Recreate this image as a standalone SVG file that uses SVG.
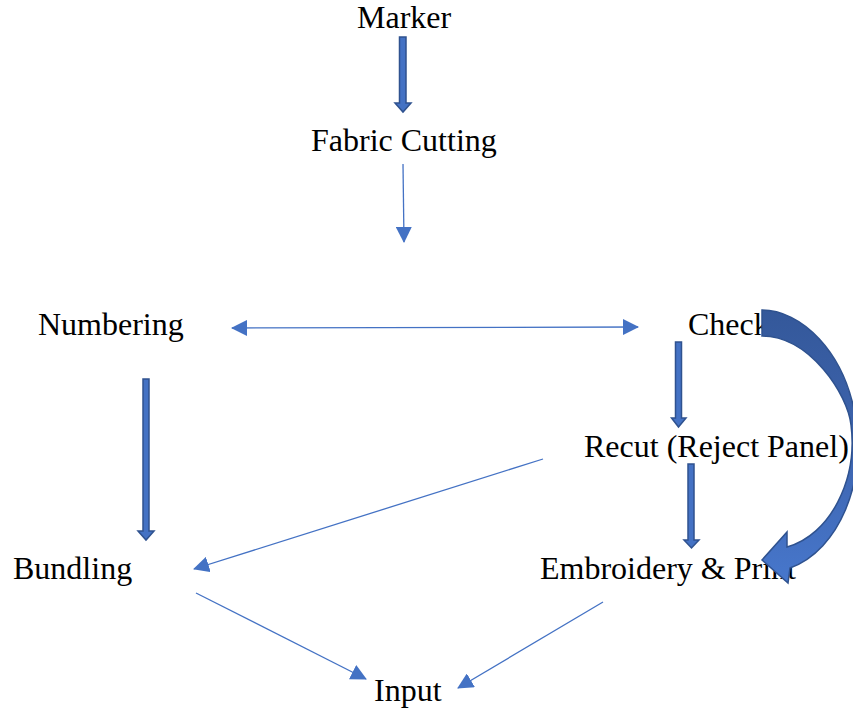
<svg xmlns="http://www.w3.org/2000/svg" width="853" height="712" viewBox="0 0 853 712">
<style>
.lbl{font-family:"Liberation Serif","Times New Roman",serif;font-size:32px;fill:#000}
.thin{stroke:#4472C4;stroke-width:1.3;fill:none}
.blk{fill:#4472C4;stroke:#2F528F;stroke-width:1.5}
</style>
<defs>
<marker id="ah" viewBox="0 0 16 16" refX="15" refY="8" markerWidth="16" markerHeight="16" markerUnits="userSpaceOnUse" orient="auto-start-reverse">
<path d="M0,0 L16,8 L0,16 z" fill="#4472C4"/>
</marker>
<linearGradient id="cg" x1="0" y1="0" x2="0" y2="1">
<stop offset="0" stop-color="#34589A"/>
<stop offset="0.5" stop-color="#3D64AE"/>
<stop offset="1" stop-color="#4777CC"/>
</linearGradient>
</defs>
<rect width="853" height="712" fill="#fff"/>
<g id="marker"><text class="lbl" x="357" y="28">Marker</text></g>
<g id="fabric-cutting"><text class="lbl" x="311" y="151">Fabric Cutting</text></g>
<g id="numbering"><text class="lbl" x="38" y="335">Numbering</text></g>
<g id="check"><text class="lbl" x="688" y="335">Check</text></g>
<g id="recut"><text class="lbl" x="584" y="457">Recut (Reject Panel)</text></g>
<g id="bundling"><text class="lbl" x="13" y="579">Bundling</text></g>
<g id="embroidery"><text class="lbl" x="540" y="579">Embroidery &amp; Print</text></g>
<g id="input"><text class="lbl" x="374" y="701">Input</text></g>
<g id="connectors">
<path class="blk" d="M399.5,37 H406 V103 H411 L403,112 L395,103 H399.5 Z"/>
<line class="thin" x1="403" y1="164" x2="404" y2="242" marker-end="url(#ah)"/>
<line class="thin" x1="232" y1="328" x2="638" y2="327" marker-start="url(#ah)" marker-end="url(#ah)"/>
<path class="blk" d="M675.5,342 H681.5 V418 H686 L678.5,427 L671.5,418 H675.5 Z"/>
<path class="blk" d="M688,464 H694 V540 H699 L691.5,548 L684,540 H688 Z"/>
<path class="blk" d="M143,379 H149 V531 H154 L146,540 L138,531 H143 Z"/>
<line class="thin" x1="543" y1="459" x2="194" y2="569" marker-end="url(#ah)"/>
<line class="thin" x1="196" y1="593" x2="366" y2="679" marker-end="url(#ah)"/>
<line class="thin" x1="603" y1="602" x2="458" y2="688" marker-end="url(#ah)"/>
<path d="M762,310 C800,310 845,350 856,420 C866,480 840,550 790,568 L788,583 L762,560 L787,532 L787,547 C830,535 858,480 851,425 C848,395 810,336 762,336 Z" fill="url(#cg)" stroke="#2F528F" stroke-width="1.5"/>
</g>
</svg>
